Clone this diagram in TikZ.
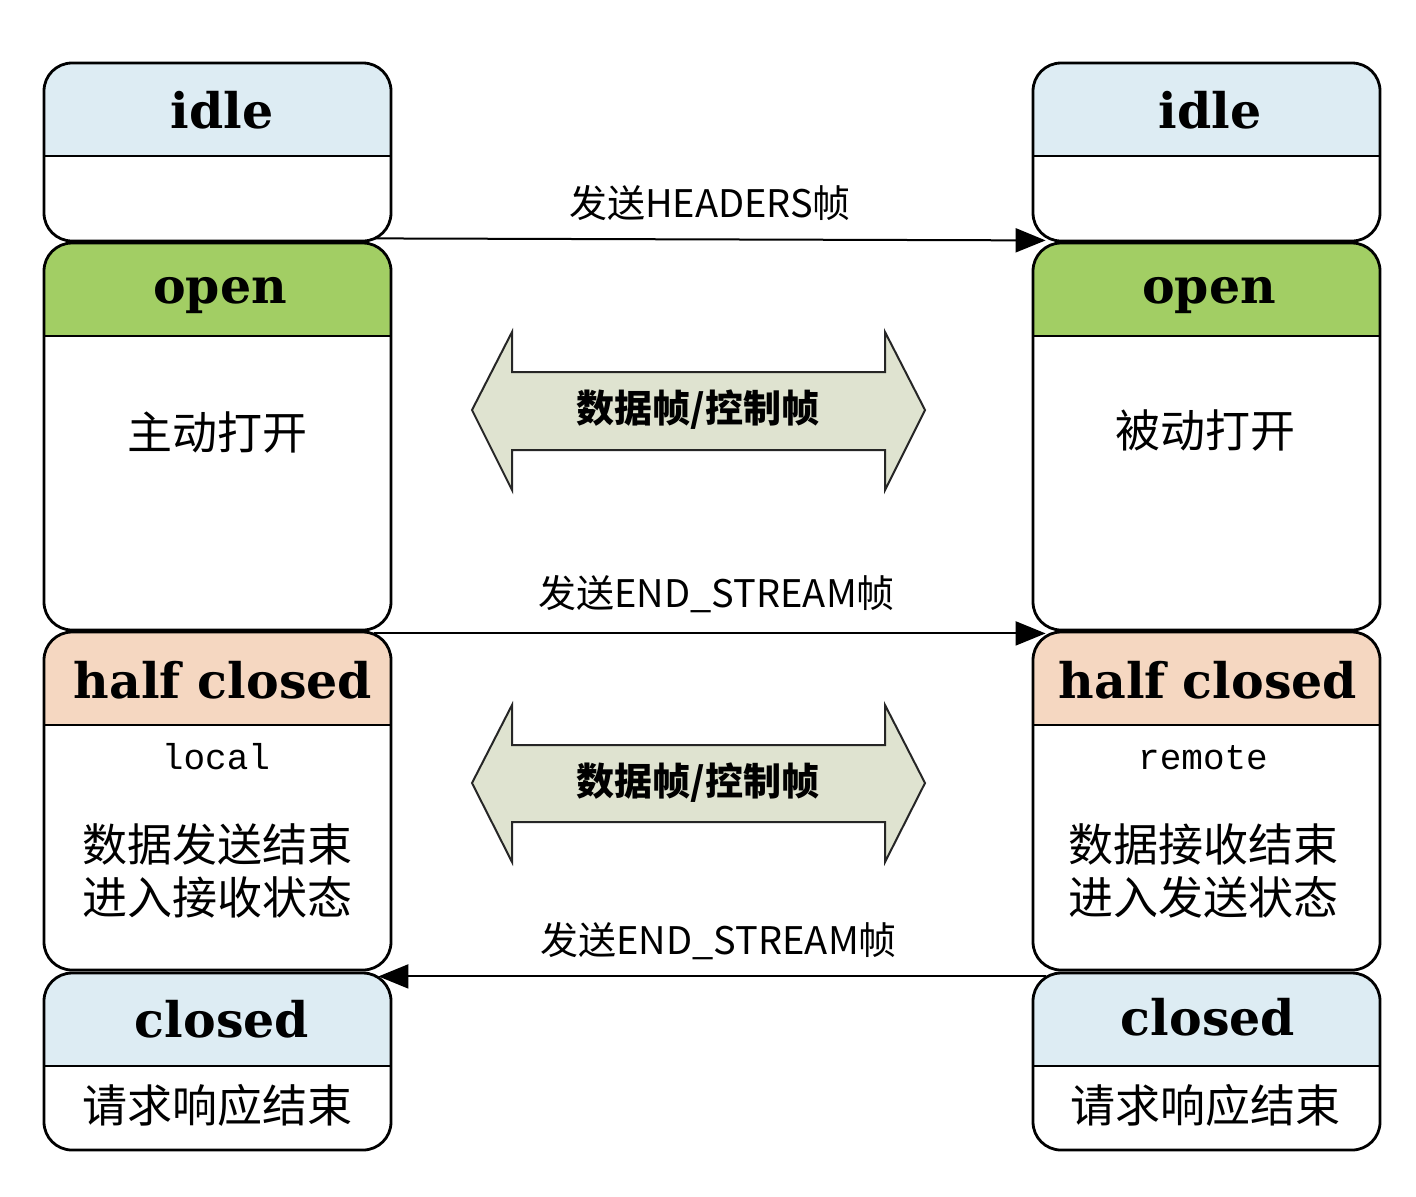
\documentclass[tikz,border=0pt]{standalone}
\usepackage{fontspec}
\setmainfont{Noto Sans CJK SC}
\newfontfamily\hfont{DejaVu Serif}
\newfontfamily\mfont{Liberation Mono}
\newfontfamily\cjk{Noto Sans CJK SC}
\usetikzlibrary{arrows.meta}
\definecolor{idleblue}{HTML}{DDECF3}
\definecolor{opengreen}{HTML}{A2CE64}
\definecolor{halfpeach}{HTML}{F5D7C1}
\definecolor{dblfill}{HTML}{DFE3D0}
\tikzset{
  statebox/.style={draw=black, line width=1.4pt, rounded corners=14pt,
    minimum width=173.5pt, inner sep=0pt, fill=white,
    path picture={
      \fill[#1, sharp corners] (path picture bounding box.north west) rectangle ([yshift=-46.5pt]path picture bounding box.north east);
      \draw[line width=1.4pt, sharp corners] ([yshift=-46.5pt]path picture bounding box.north west) -- ([yshift=-46.5pt]path picture bounding box.north east);
    }},
  hdr/.style={font=\hfont\bfseries\fontsize{24.5}{28}\selectfont, inner sep=0pt},
  cjkbody/.style={font=\cjk\fontsize{22.5}{26.5}\selectfont, align=center, inner sep=0pt},
  monotxt/.style={font=\mfont\fontsize{18}{22}\selectfont, inner sep=0pt},
  elabel/.style={font=\cjk\fontsize{19}{22}\selectfont, inner sep=0pt},
  dbllabel/.style={font=\cjk\bfseries\fontsize{19}{22}\selectfont, inner sep=0pt},
  conn/.style={line width=1pt, -{Triangle[length=15pt, width=12pt]}},
  dblarrow/.style={draw=black!85, line width=1pt, fill=dblfill, line join=miter},
}
\begin{document}
\begin{tikzpicture}[x=0.5pt, y=-0.5pt]
\useasboundingbox[fill=white] (0,0) rectangle (1416,1196);

% left column
\node[statebox=idleblue, minimum height=89pt] (lidle) at (217.5,152) {};
\node[statebox=opengreen, minimum height=193.5pt] (lopen) at (217.5,436.5) {};
\node[statebox=halfpeach, minimum height=169pt] (lhalf) at (217.5,801) {};
\node[statebox=idleblue, minimum height=88.5pt] (lclosed) at (217.5,1061.5) {};

% right column
\node[statebox=idleblue, minimum height=89pt] (ridle) at (1206.5,152) {};
\node[statebox=opengreen, minimum height=193.5pt] (ropen) at (1206.5,436.5) {};
\node[statebox=halfpeach, minimum height=169pt] (rhalf) at (1206.5,801) {};
\node[statebox=idleblue, minimum height=88.5pt] (rclosed) at (1206.5,1061.5) {};

% header texts
\node[hdr] (lidlet) at (222,110) {idle};
\node[hdr] (ridlet) at (1210,110) {idle};
\node[hdr] (lopent) at (220,296) {open};
\node[hdr] (ropent) at (1209,296) {open};
\node[hdr] (lhalft) at (223,680) {half closed};
\node[hdr] (rhalft) at (1208,680) {half closed};
\node[hdr] (lclosedt) at (222,1019) {closed};
\node[hdr] (rclosedt) at (1208,1017) {closed};

% body texts
\node[cjkbody] (lopenb) at (217,432) {主动打开};
\node[cjkbody] (ropenb) at (1205,430) {被动打开};
\node[monotxt] (llocal) at (216,757) {local};
\node[monotxt] (rremote) at (1203,758) {remote};
\node[cjkbody] (lhalfb) at (217,871) {数据发送结束\\进入接收状态};
\node[cjkbody] (rhalfb) at (1203,871) {数据接收结束\\进入发送状态};
\node[cjkbody] (lclosedb) at (217,1105) {请求响应结束};
\node[cjkbody] (rclosedb) at (1205,1105) {请求响应结束};

% connectors
\draw[conn] ([xshift=-9pt,yshift=2pt]lidle.south east) -- ([xshift=7pt,yshift=1pt]ridle.south west)
  node[elabel, midway, above=9pt] (lab1) {发送HEADERS帧};
\draw[conn] ([xshift=-9pt,yshift=-1pt]lopen.south east) -- ([xshift=7pt,yshift=-1pt]ropen.south west)
  node[elabel, pos=0.51, above=10pt] (lab2) {发送END\_STREAM帧};
\draw[conn] ([xshift=7pt,yshift=-2.5pt]rhalf.south west) -- ([xshift=-7pt,yshift=-2.5pt]lhalf.south east)
  node[elabel, pos=0.49, above=8pt] (lab3) {发送END\_STREAM帧};

% double arrows
\draw[dblarrow] (472,410) -- (512,332) -- (512,372) -- (885,372) -- (885,332) -- (925,410)
  -- (885,490) -- (885,450) -- (512,450) -- (512,490) -- cycle;
\node[dbllabel] (dbl1) at (698,410) {数据帧/控制帧};
\draw[dblarrow] (472,783) -- (512,705) -- (512,745) -- (885,745) -- (885,705) -- (925,783)
  -- (885,862) -- (885,822) -- (512,822) -- (512,862) -- cycle;
\node[dbllabel] (dbl2) at (698,783) {数据帧/控制帧};
\end{tikzpicture}
\end{document}
